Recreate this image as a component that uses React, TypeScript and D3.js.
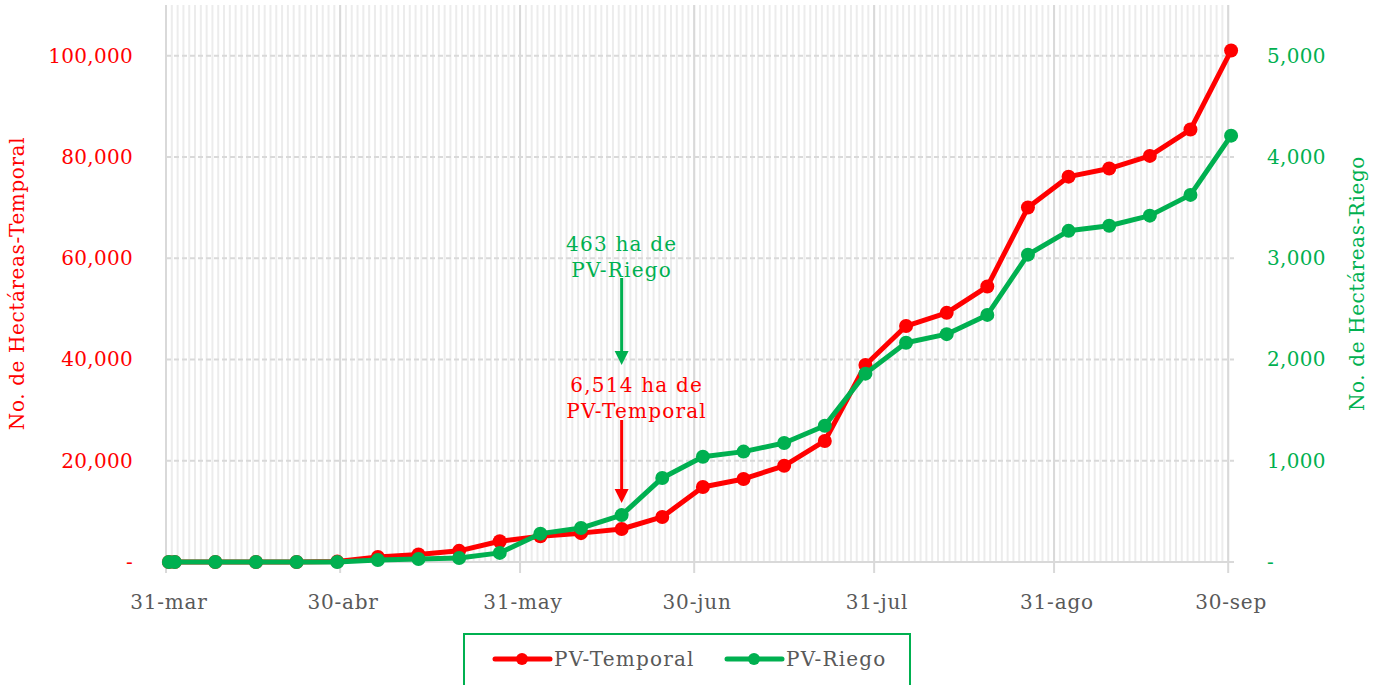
import * as d3 from 'd3';
import { useEffect, useRef } from 'react';

// weekly cut-off dates (2023)
const fechas = [
  '2023-03-31', '2023-04-01', '2023-04-08', '2023-04-15', '2023-04-22', '2023-04-29',
  '2023-05-06', '2023-05-13', '2023-05-20', '2023-05-27', '2023-06-03', '2023-06-10',
  '2023-06-17', '2023-06-24', '2023-07-01', '2023-07-08', '2023-07-15', '2023-07-22',
  '2023-07-29', '2023-08-05', '2023-08-12', '2023-08-19', '2023-08-26', '2023-09-02',
  '2023-09-09', '2023-09-16', '2023-09-23', '2023-09-30',
];

const temporal = [
  0, 0, 0, 0, 0, 80, 1000, 1500, 2200, 4100, 5100, 5700, 6514, 8900, 14800, 16400,
  19000, 23900, 38900, 46600, 49200, 54400, 70000, 76100, 77700, 80200, 85400, 101000,
];

const riego = [
  0, 0, 0, 0, 0, 0, 20, 30, 40, 90, 280, 335, 463, 830, 1040, 1090, 1175, 1345, 1860,
  2165, 2250, 2440, 3035, 3270, 3320, 3420, 3625, 4210,
];

const xTicks = ['2023-03-31', '2023-04-30', '2023-05-31', '2023-06-30', '2023-07-31', '2023-08-31', '2023-09-30'];
const leftTicks = [0, 20000, 40000, 60000, 80000, 100000];
const rightTicks = [0, 1000, 2000, 3000, 4000, 5000];

const mesesCortos = ['ene', 'feb', 'mar', 'abr', 'may', 'jun', 'jul', 'ago', 'sep', 'oct', 'nov', 'dic'];

const RED = '#ff0000';
const GREEN = '#00b050';
const FONT = '"DejaVu Serif", serif';

const parse = (s: string) => {
  const [y, m, d] = s.split('-').map(Number);
  return new Date(y, m - 1, d);
};

export default function App() {
  const ref = useRef<SVGSVGElement | null>(null);

  useEffect(() => {
    if (!ref.current) return;
    const svg = d3.select(ref.current);
    svg.selectAll('*').remove();

    const width = 1378;
    const height = 685;
    const left = 166;
    const right = 1234;
    const top = 5;
    const bottom = 562;

    const dates = fechas.map(parse);
    const start = parse('2023-03-31');
    const end = d3.timeDay.offset(parse('2023-09-30'), 1);

    const x = d3.scaleTime().domain([start, end]).range([left, right]);
    const mid = (d: Date) => x(d3.timeHour.offset(d, 12));

    const yL = d3.scaleLinear().domain([0, 110000]).range([bottom, top]);
    const yR = d3.scaleLinear().domain([0, 5500]).range([bottom, top]);

    svg.attr('viewBox', `0 0 ${width} ${height}`);
    svg.append('rect').attr('width', width).attr('height', height).attr('fill', '#fff');

    // daily minor gridlines
    svg.append('g')
      .selectAll('line')
      .data(d3.timeDay.range(start, end))
      .join('line')
      .attr('x1', (d) => x(d)).attr('x2', (d) => x(d))
      .attr('y1', top).attr('y2', bottom)
      .attr('stroke', '#ececec')
      .attr('stroke-width', 2);

    // horizontal dashed gridlines
    svg.append('g')
      .selectAll('line')
      .data(leftTicks.filter((t) => t > 0))
      .join('line')
      .attr('x1', left).attr('x2', right)
      .attr('y1', (d) => yL(d)).attr('y2', (d) => yL(d))
      .attr('stroke', '#d9d9d9')
      .attr('stroke-width', 2)
      .attr('stroke-dasharray', '5,3');

    // major gridlines at month ends
    svg.append('g')
      .selectAll('line')
      .data(xTicks.map(parse))
      .join('line')
      .attr('x1', (d) => x(d)).attr('x2', (d) => x(d))
      .attr('y1', top).attr('y2', bottom + 11)
      .attr('stroke', '#d9d9d9')
      .attr('stroke-width', 2);

    // x axis line
    svg.append('line')
      .attr('x1', left).attr('x2', right)
      .attr('y1', bottom).attr('y2', bottom)
      .attr('stroke', '#d9d9d9')
      .attr('stroke-width', 2);

    // x tick labels
    svg.append('g')
      .selectAll('text')
      .data(xTicks.map(parse))
      .join('text')
      .attr('x', (d) => mid(d))
      .attr('y', 609)
      .attr('text-anchor', 'middle')
      .attr('font-family', FONT)
      .attr('font-size', 20)
      .attr('letter-spacing', 0.8)
      .attr('fill', '#595959')
      .text((d) => `${d.getDate()}-${mesesCortos[d.getMonth()]}`);

    const fmt = d3.format(',');

    // left axis labels
    svg.append('g')
      .selectAll('text')
      .data(leftTicks)
      .join('text')
      .attr('x', 133)
      .attr('y', (d) => yL(d))
      .attr('dy', '0.35em')
      .attr('text-anchor', 'end')
      .attr('font-family', FONT)
      .attr('font-size', 20)
      .attr('letter-spacing', 0.3)
      .attr('fill', RED)
      .text((d) => (d === 0 ? '-' : fmt(d)));

    // right axis labels
    svg.append('g')
      .selectAll('text')
      .data(rightTicks)
      .join('text')
      .attr('x', 1267)
      .attr('y', (d) => yR(d))
      .attr('dy', '0.35em')
      .attr('text-anchor', 'start')
      .attr('font-family', FONT)
      .attr('font-size', 20)
      .attr('letter-spacing', 0.3)
      .attr('fill', GREEN)
      .text((d) => (d === 0 ? '-' : fmt(d)));

    // axis titles
    svg.append('text')
      .attr('transform', `translate(24, ${(top + bottom) / 2}) rotate(-90)`)
      .attr('text-anchor', 'middle')
      .attr('font-family', FONT)
      .attr('font-size', 20)
      .attr('letter-spacing', 0.6)
      .attr('fill', RED)
      .text('No. de Hectáreas-Temporal');

    svg.append('text')
      .attr('transform', `translate(1364, ${(top + bottom) / 2}) rotate(-90)`)
      .attr('text-anchor', 'middle')
      .attr('font-family', FONT)
      .attr('font-size', 20)
      .attr('letter-spacing', 0.6)
      .attr('fill', GREEN)
      .text('No. de Hectáreas-Riego');

    const series = [
      { values: temporal, y: yL, color: RED },
      { values: riego, y: yR, color: GREEN },
    ];

    series.forEach((s) => {
      const pts: [number, number][] = dates.map((d, i) => [mid(d), s.y(s.values[i])]);
      svg.append('path')
        .attr('d', d3.line()(pts))
        .attr('fill', 'none')
        .attr('stroke', s.color)
        .attr('stroke-width', 5)
        .attr('stroke-linejoin', 'round');
      svg.append('g')
        .selectAll('circle')
        .data(pts)
        .join('circle')
        .attr('cx', (p) => p[0])
        .attr('cy', (p) => p[1])
        .attr('r', 7)
        .attr('fill', s.color);
    });

    // annotations
    const ann = parse('2023-06-17');
    const ax = mid(ann);
    const idx = fechas.indexOf('2023-06-17');

    const arrow = (x0: number, y0: number, y1: number, color: string) => {
      svg.append('line')
        .attr('x1', x0).attr('x2', x0)
        .attr('y1', y0).attr('y2', y1 - 12)
        .attr('stroke', color)
        .attr('stroke-width', 3);
      svg.append('path')
        .attr('d', `M${x0 - 7},${y1 - 14}L${x0 + 7},${y1 - 14}L${x0},${y1}Z`)
        .attr('fill', color);
    };

    const label = (lines: string[], cx: number, y0: number, color: string) => {
      const t = svg.append('text')
        .attr('text-anchor', 'middle')
        .attr('font-family', FONT)
        .attr('font-size', 20)
        .attr('letter-spacing', 1.2)
        .attr('fill', color);
      lines.forEach((l, i) => {
        t.append('tspan').attr('x', cx).attr('y', y0 + i * 26).text(l);
      });
    };

    label([`${fmt(riego[idx])} ha de`, 'PV-Riego'], ax, 251, GREEN);
    arrow(ax, 278, 365, GREEN);
    label([`${fmt(temporal[idx])} ha de`, 'PV-Temporal'], ax + 15, 392, RED);
    arrow(ax, 420, 503, RED);

    // legend
    svg.append('rect')
      .attr('x', 464).attr('y', 634)
      .attr('width', 446).attr('height', 60)
      .attr('fill', '#fff')
      .attr('stroke', GREEN)
      .attr('stroke-width', 2);

    const legend = [
      { name: 'PV-Temporal', color: RED, x: 495 },
      { name: 'PV-Riego', color: GREEN, x: 727 },
    ];
    legend.forEach((l) => {
      const g = svg.append('g');
      g.append('line')
        .attr('x1', l.x).attr('x2', l.x + 55)
        .attr('y1', 659).attr('y2', 659)
        .attr('stroke', l.color)
        .attr('stroke-width', 5)
        .attr('stroke-linecap', 'round');
      g.append('circle').attr('cx', l.x + 27).attr('cy', 659).attr('r', 6).attr('fill', l.color);
      g.append('text')
        .attr('x', l.x + 59).attr('y', 659)
        .attr('dy', '0.35em')
        .attr('font-family', FONT)
        .attr('font-size', 20)
        .attr('letter-spacing', 1.2)
        .attr('fill', '#595959')
        .text(l.name);
    });
  }, []);

  return (
    <svg
      ref={ref}
      width={1378}
      height={685}
      style={{ position: 'absolute', left: 0, top: 0, display: 'block' }}
    />
  );
}
